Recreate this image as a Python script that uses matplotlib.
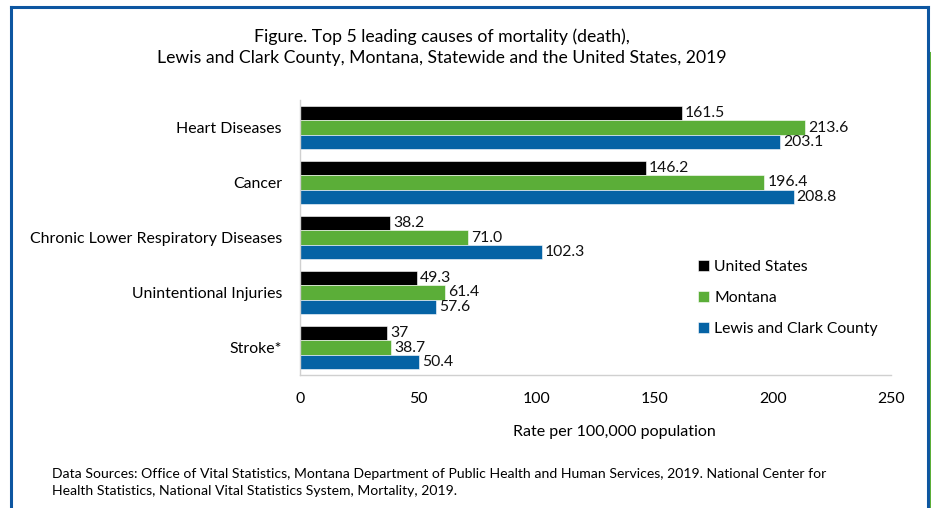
import matplotlib
matplotlib.use("Agg")
import matplotlib.pyplot as plt
import numpy as np
from matplotlib.lines import Line2D

plt.rcParams['font.family'] = ['Lato', 'DejaVu Sans']

categories = ["Heart Diseases", "Cancer", "Chronic Lower Respiratory Diseases",
              "Unintentional Injuries", "Stroke*"]
us = [161.5, 146.2, 38.2, 49.3, 37]
montana = [213.6, 196.4, 71.0, 61.4, 38.7]
lewis = [203.1, 208.8, 102.3, 57.6, 50.4]
us_labels = ["161.5", "146.2", "38.2", "49.3", "37"]
mt_labels = ["213.6", "196.4", "71.0", "61.4", "38.7"]
lc_labels = ["203.1", "208.8", "102.3", "57.6", "50.4"]
series_names = ["United States", "Montana", "Lewis and Clark County"]
colors = ["#000000", "#5bae38", "#0563a5"]
xticks = [0, 50, 100, 150, 200, 250]

fig = plt.figure(figsize=(9.31, 5.08), dpi=100)
ax = fig.add_axes([300/931, 1-375/508, 591/931, 275/508])

y = np.arange(len(categories))
h = 0.265
series = [(us, us_labels), (montana, mt_labels), (lewis, lc_labels)]
handles = []
for i, ((vals, labs), c, name) in enumerate(zip(series, colors, series_names)):
    pos = y + (i - 1) * h
    b = ax.barh(pos, vals, height=h, color=c, edgecolor='white', linewidth=0.4, label=name)
    handles.append(b)
    for p, v, t in zip(pos, vals, labs):
        ax.text(v + 1.3, p, t, va='center', ha='left', fontsize=11.3, color='#111111')

ax.set_ylim(4.5, -0.5)
ax.set_xlim(0, 250)
ax.set_yticks(y)
ax.set_yticklabels(categories, fontsize=11.4)
ax.set_xticks(xticks)
ax.set_xticklabels([str(t) for t in xticks], fontsize=11.4)
ax.tick_params(axis='both', length=0)
ax.tick_params(axis='x', pad=12)
ax.tick_params(axis='y', pad=13)
for s in ['top', 'right']:
    ax.spines[s].set_visible(False)
for s in ['left', 'bottom']:
    ax.spines[s].set_color('#d0d0d0')
    ax.spines[s].set_linewidth(1)

fig.text(442/931, 1-37/508, "Figure. Top 5 leading causes of mortality (death),",
         ha='center', va='center', fontsize=12.7)
fig.text(442/931, 1-58/508, "Lewis and Clark County, Montana, Statewide and the United States, 2019",
         ha='center', va='center', fontsize=12.7)
fig.text(614/931, 1-432/508, "Rate per 100,000 population", ha='center', va='center', fontsize=11.5)
fig.text(52/931, 1-474/508,
         "Data Sources: Office of Vital Statistics, Montana Department of Public Health and Human Services, 2019. National Center for",
         ha='left', va='center', fontsize=10.05)
fig.text(52/931, 1-491/508,
         "Health Statistics, National Vital Statistics System, Mortality, 2019.",
         ha='left', va='center', fontsize=10.05)

leg = ax.legend(handles=handles, labels=series_names, loc='upper left',
                bbox_to_anchor=(384/591, 1-146/275), frameon=False, fontsize=11.3,
                handlelength=0.72, handleheight=0.72, handletextpad=0.3, labelspacing=1.07)

# frame lines
blue = "#0d56a1"
fig.add_artist(Line2D([11/931, 11/931], [0, 1-7/508], color=blue, lw=2.2, transform=fig.transFigure))
fig.add_artist(Line2D([11/931, 928/931], [1-7/508, 1-7/508], color=blue, lw=2.2, transform=fig.transFigure))
fig.add_artist(Line2D([928/931, 928/931], [0, 1-7/508], color=blue, lw=2.2, transform=fig.transFigure))
fig.add_artist(Line2D([930.5/931, 930.5/931], [0, 1-53/508], color="#5bae38", lw=1.5, transform=fig.transFigure))

fig.savefig("out.png", dpi=100)
